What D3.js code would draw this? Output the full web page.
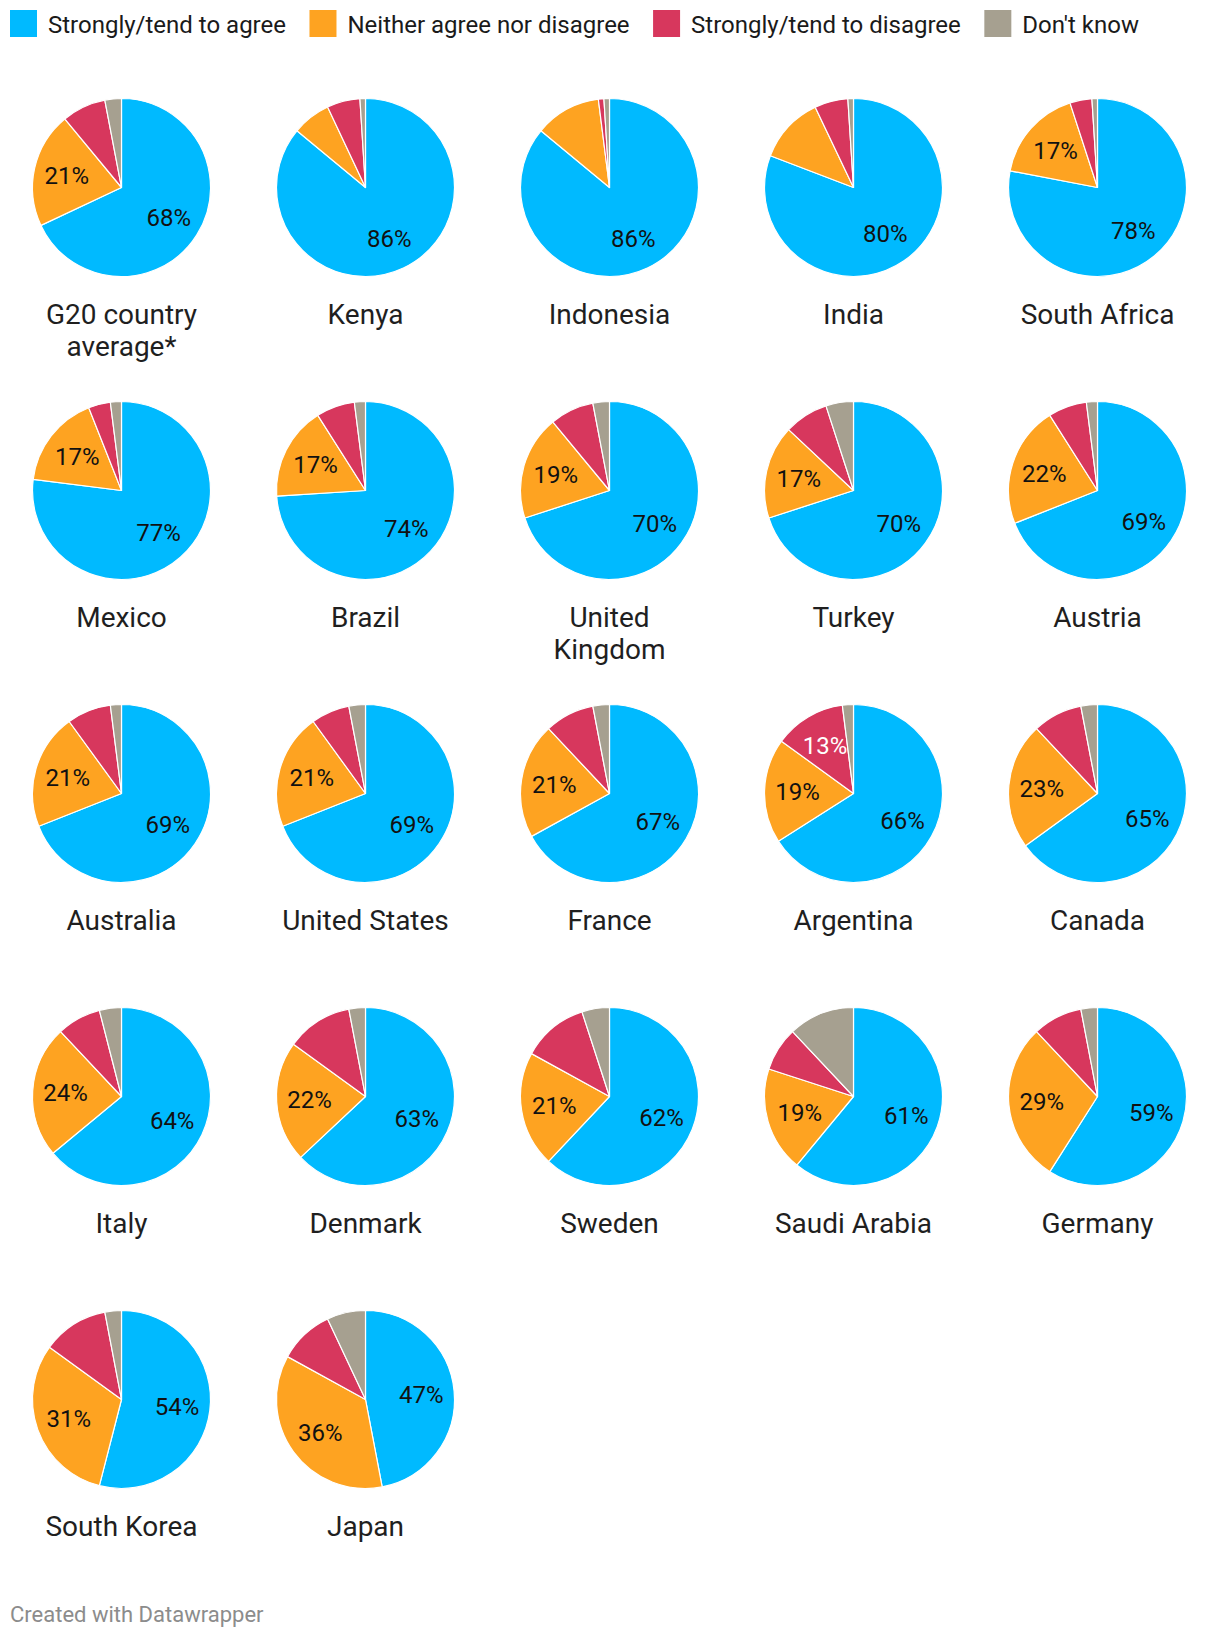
<!DOCTYPE html>
<html>
<head>
<meta charset="utf-8">
<script src="https://cdn.jsdelivr.net/npm/d3@7"></script>
<style>
  html, body { margin: 0; padding: 0; background: #fff; }
  svg { display: block; font-family: Roboto, "Noto Sans", sans-serif; }
</style>
</head>
<body>
<svg id="chart" width="1220" height="1638"></svg>
<script>
// ---------- DATA ----------
const seriesNames = ["Strongly/tend to agree", "Neither agree nor disagree", "Strongly/tend to disagree", "Don't know"];
const countries = ["G20 country average*", "Kenya", "Indonesia", "India", "South Africa",
  "Mexico", "Brazil", "United Kingdom", "Turkey", "Austria",
  "Australia", "United States", "France", "Argentina", "Canada",
  "Italy", "Denmark", "Sweden", "Saudi Arabia", "Germany",
  "South Korea", "Japan"];
const agree    = [68, 86, 86, 80, 78, 77, 74, 70, 70, 69, 69, 69, 67, 66, 65, 64, 63, 62, 61, 59, 54, 47];
const neither  = [21,  7, 12, 12, 17, 17, 17, 19, 17, 22, 21, 21, 21, 19, 23, 24, 22, 21, 19, 29, 31, 36];
const disagree = [ 8,  6,  1,  6,  4,  4,  7,  8,  8,  7,  8,  7,  9, 13,  9,  8, 12, 12,  8,  9, 12, 10];
const dontKnow = [ 3,  1,  1,  1,  1,  2,  2,  3,  5,  2,  2,  3,  3,  2,  3,  4,  3,  5, 12,  3,  3,  7];
const seriesColors = ["#00baff", "#fea321", "#d7375d", "#a6a090"];
const labelTextColors = ["#111", "#111", "#fff", "#111"];

// ---------- LAYOUT ----------
const W = 1220;
const nCols = 5;
const nRows = Math.ceil(countries.length / nCols);
const R = 89;
const labelR = 56;

const svg = d3.select("#chart");
const color = d3.scaleOrdinal().domain(seriesNames).range(seriesColors);
const textColor = d3.scaleOrdinal().domain(seriesNames).range(labelTextColors);

const xCol = d3.scaleBand().domain(d3.range(nCols)).range([-0.5, W - 0.5]);
const yRow = d3.scaleBand().domain(d3.range(nRows)).range([36, 36 + 303 * nRows]);

// ---------- LEGEND ----------
const legend = svg.append("g").attr("class", "legend");
let lx = 10;
seriesNames.forEach((name, i) => {
  const g = legend.append("g").attr("transform", `translate(${lx},10)`);
  g.append("rect").attr("width", 27).attr("height", 27).attr("fill", color(name));
  const t = g.append("text").attr("x", 38).attr("y", 22.5)
    .attr("font-size", 24).attr("fill", "#1a1a1a").text(name);
  const w = t.node().getComputedTextLength();
  lx += 38 + w + 23.5;
});

// ---------- PIES ----------
const pie = d3.pie().sort(null).value(d => d.value);
const arc = d3.arc().innerRadius(0).outerRadius(R);
const labelArc = d3.arc().innerRadius(labelR).outerRadius(labelR);

const rowsData = countries.map((c, i) => ({
  name: c,
  values: [agree[i], neither[i], disagree[i], dontKnow[i]].map((v, k) => ({ key: seriesNames[k], value: v }))
}));

rowsData.forEach((d, i) => {
  const col = i % nCols, row = Math.floor(i / nCols);
  const cx = xCol(col) + xCol.bandwidth() / 2;
  const cy = yRow(row) + 151.5;
  const g = svg.append("g").attr("transform", `translate(${cx},${cy})`);
  const arcs = pie(d.values);
  g.selectAll("path").data(arcs).join("path")
    .attr("d", arc)
    .attr("fill", a => color(a.data.key))
    .attr("stroke", "#fff").attr("stroke-width", 1.2).attr("stroke-linejoin", "round");
  g.selectAll("text.val").data(arcs.filter(a => a.data.value >= 13)).join("text")
    .attr("class", "val")
    .attr("transform", a => `translate(${labelArc.centroid(a)})`)
    .attr("text-anchor", "middle").attr("dy", "0.35em")
    .attr("font-size", 24)
    .attr("fill", a => textColor(a.data.key))
    .text(a => a.data.value + "%");

  // Country label with wrapping
  const label = g.append("text").attr("text-anchor", "middle")
    .attr("font-size", 28).attr("fill", "#1f1f1f");
  const words = d.name.split(" ");
  let lines = [], line = [];
  const tmp = label.append("tspan");
  words.forEach(w => {
    const test = line.concat(w).join(" ");
    tmp.text(test);
    if (tmp.node().getComputedTextLength() > 190 && line.length) {
      lines.push(line.join(" "));
      line = [w];
    } else line.push(w);
  });
  lines.push(line.join(" "));
  tmp.remove();
  lines.forEach((ln, k) => {
    label.append("tspan").attr("x", 0).attr("y", R + 47 + k * 32).text(ln);
  });
});

// ---------- FOOTER ----------
svg.append("text").attr("x", 10).attr("y", 1622)
  .attr("font-size", 22).attr("fill", "#8c8c8c").text("Created with Datawrapper");
</script>
</body>
</html>
